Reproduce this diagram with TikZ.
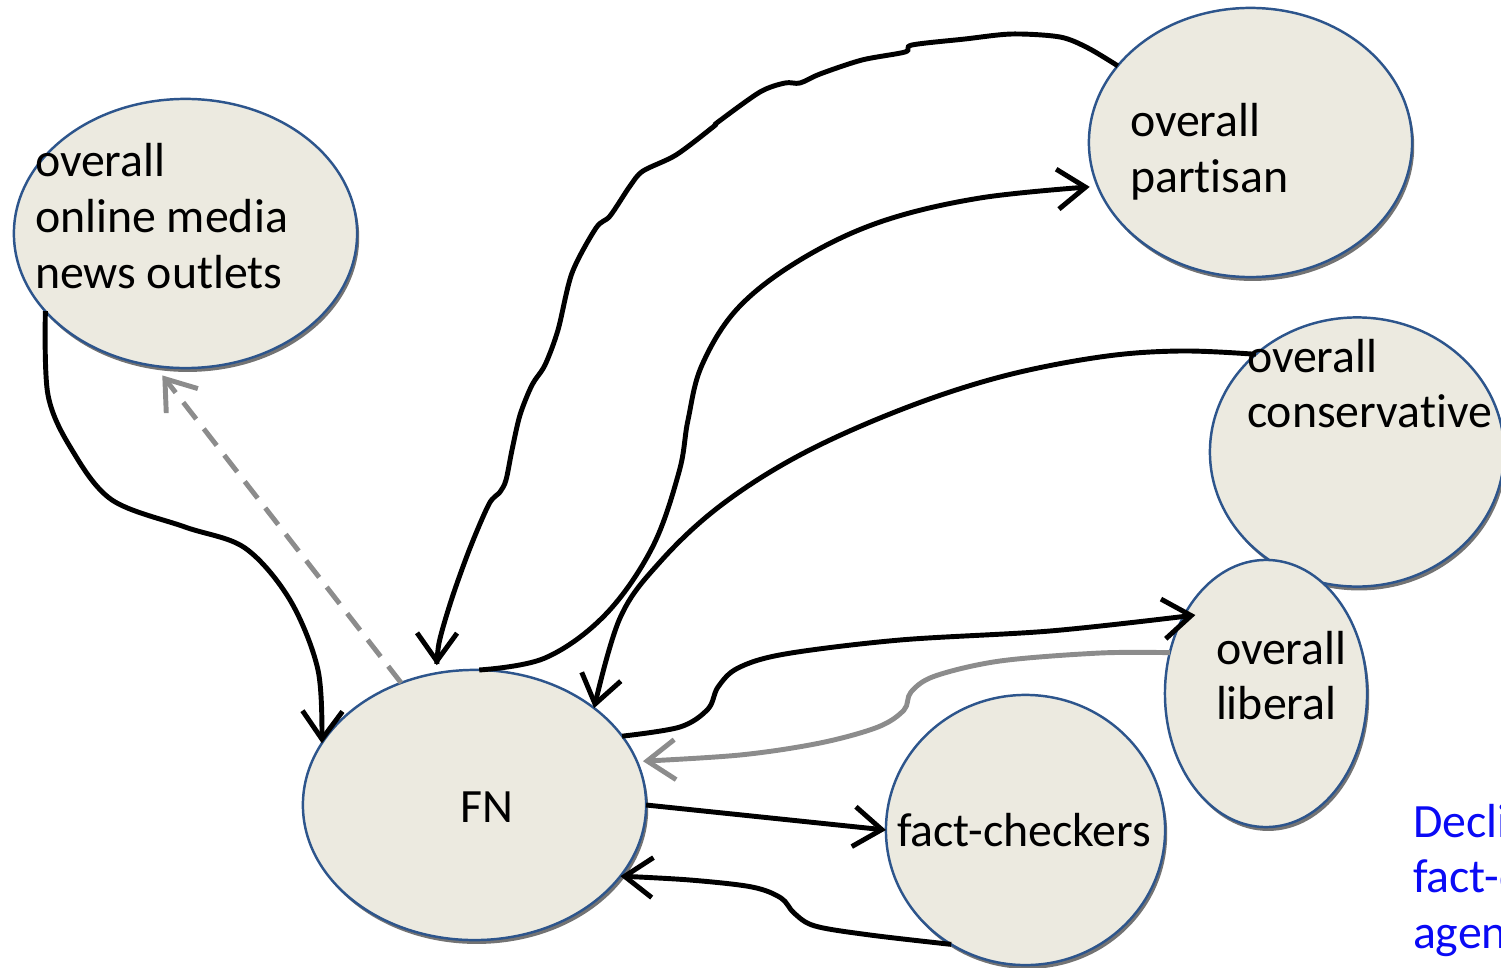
\documentclass[tikz,border=0pt]{standalone}
\usepackage{fontspec}
\setmainfont{Carlito}[Ligatures=NoCommon]
\usetikzlibrary{shapes.geometric,arrows.meta,shadows}
\definecolor{efill}{RGB}{236,234,224}
\definecolor{eborder}{RGB}{45,85,140}
\definecolor{lgray}{RGB}{140,140,140}
\definecolor{noteblue}{RGB}{10,10,245}
\newcommand{\mystack}[1]{\begin{tabular}[t]{@{}l@{}}#1\end{tabular}}
\tikzset{
  bubble/.style={ellipse, draw=eborder, fill=efill, line width=0.7pt, inner sep=0pt, outer sep=0pt,
    drop shadow={shadow xshift=0.6pt, shadow yshift=-1.1pt, opacity=0.55, fill=black}},
  lbl/.style={inner sep=0pt, outer sep=0pt, font=\fontsize{13.6}{15.9}\selectfont, anchor=base west},
  clbl/.style={inner sep=0pt, outer sep=0pt, font=\fontsize{13.6}{15.9}\selectfont, anchor=base},
  link/.style={line width=1.4pt, -{Straight Barb[length=2.8mm,width=4mm]}},
  graylink/.style={link, draw=lgray},
  dashlink/.style={line width=1.4pt, draw=lgray, dash pattern=on 6pt off 3.5pt, -{Straight Barb[length=2.8mm,width=4mm]}},
}
\begin{document}
\begin{tikzpicture}[x=0.01cm, y=-0.01cm]
\useasboundingbox (0,0) rectangle (1501,967);
\clip (0,0) rectangle (1501,967);

% bubbles
\node[bubble, minimum width=3.43cm, minimum height=2.69cm] (om) at (185.5,233.5) {};
\node[bubble, minimum width=3.23cm, minimum height=2.69cm] (par) at (1250.5,142.5) {};
\node[bubble, minimum width=2.94cm, minimum height=2.69cm] (con) at (1357,452) {};
\node[bubble, minimum width=2.02cm, minimum height=2.67cm] (lib) at (1266,693.5) {};
\node[bubble, minimum width=2.79cm, minimum height=2.70cm] (fc) at (1025.5,830) {};
\node[bubble, minimum width=3.43cm, minimum height=2.70cm] (fn) at (474.5,805) {};

% labels
\node[lbl] (tom) at (35,177) {\mystack{overall\\online media\\news outlets}};
\node[lbl] (tpar) at (1130,137) {\mystack{overall\\partisan}};
\node[lbl] (tcon) at (1247,372) {\mystack{overall\\conservative}};
\node[lbl] (tlib) at (1216,664) {\mystack{overall\\liberal}};
\node[clbl] (tfn) at (487,822) {FN};
\node[clbl] (tfc) at (1024,846) {fact-checkers};
\node[lbl, text=noteblue] (note) at (1413,837) {\mystack{Decli\\fact-c\\agen}};

% connectors
\draw[link] plot[smooth, tension=0.55] coordinates {(om.209) (48,395) (72,450) (112,500) (185,527) (245,548) (290,600) (318,670) (fn.158)};
\draw[dashlink, shorten >=0.12cm] (fn.121) -- (om.257);
\draw[link, shorten >=0.08cm] plot[smooth, tension=0.5] coordinates {(par.150) (1088,48) (1060,37) (1012,34) (965,39) (912,45) (905,52) (862,60) (820,74) (800,83) (785,83) (760,92) (718,122) (713,127) (676,155) (643,171) (630,186) (610,216) (596,228) (572,273) (558,330) (545,365) (532,385) (520,415) (512,450) (506,480) (500,492) (489,504) (470,548) (452,598) (439,643) (fn.106)};
\draw[link, shorten >=0.08cm] plot[smooth, tension=0.6] coordinates {(fn.88) (545,658) (605,615) (652,548) (679,472) (688,420) (702,365) (738,308) (800,260) (880,222) (980,198) (par.196)};
\draw[link] plot[smooth, tension=0.6] coordinates {(con.136) (1180,351) (1100,357) (1000,377) (900,410) (800,455) (720,506) (660,562) (620,618) (fn.39)};
\draw[link, shorten >=-0.12cm] plot[smooth, tension=0.55] coordinates {(fn.25) (680,727) (708,709) (718,687) (738,668) (785,654) (900,640) (1050,631) (lib.137)};
\draw[graylink, shorten >=0.06cm] plot[smooth, tension=0.55] coordinates {(lib.157) (1100,653) (1000,661) (935,676) (911,692) (904,710) (878,727) (820,743) (740,755) (fn.15)};
\draw[link] (fn.0) -- (fc.180);
\draw[link] plot[smooth, tension=0.55] coordinates {(fc.237) (870,935) (815,926) (794,913) (781,898) (752,887) (690,880) (fn.334)};
\end{tikzpicture}
\end{document}
